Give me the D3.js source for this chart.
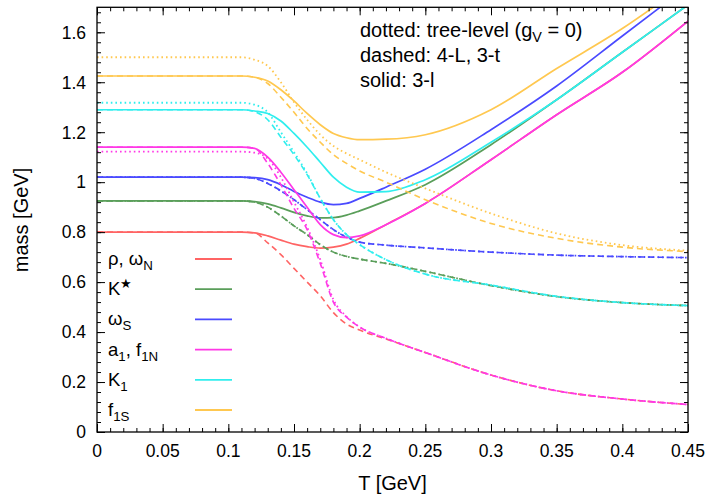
<!DOCTYPE html>
<html><head><meta charset="utf-8">
<script src="https://cdn.jsdelivr.net/npm/d3@7"></script>
<style>
body{margin:0;background:#fff;}
text{font-family:"Liberation Sans",Arial,Helvetica,sans-serif;fill:#000;}
</style>
</head><body>
<svg id="chart" width="714" height="494"></svg>
<script>
// ---------- data ----------
const T = [0, 0.05, 0.1, 0.11, 0.12, 0.13, 0.14, 0.15, 0.16, 0.17, 0.18, 0.19, 0.2, 0.22, 0.25, 0.3, 0.35, 0.4, 0.45];

// solid: 3-l
const rhoSolid    = [0.80,0.80,0.80,0.80,0.797,0.785,0.768,0.752,0.742,0.736,0.740,0.752,0.775,0.83,0.915,1.09,1.27,1.44,1.645];
const kstarSolid  = [0.925,0.925,0.925,0.925,0.922,0.913,0.897,0.879,0.865,0.857,0.858,0.868,0.885,0.925,0.99,1.15,1.33,1.52,1.71];
const omegaSSolid = [1.02,1.02,1.02,1.02,1.018,1.01,0.99,0.963,0.94,0.92,0.91,0.915,0.935,0.98,1.052,1.21,1.385,1.585,1.785];
const a1Solid     = [1.14,1.14,1.14,1.14,1.135,1.10,1.04,0.97,0.90,0.83,0.79,0.778,0.785,0.83,0.915,1.09,1.27,1.44,1.645];
const k1Solid     = [1.29,1.29,1.29,1.29,1.285,1.275,1.245,1.195,1.14,1.08,1.02,0.98,0.96,0.962,1.01,1.16,1.33,1.52,1.71];
const f1SSolid    = [1.425,1.425,1.425,1.425,1.42,1.405,1.37,1.325,1.275,1.23,1.195,1.178,1.17,1.172,1.19,1.29,1.455,1.615,1.80];

// dashed: 4-L, 3-t
const rhoDashed    = [0.80,0.80,0.80,0.80,0.797,0.757,0.71,0.655,0.60,0.545,0.478,0.432,0.408,0.372,0.318,0.228,0.165,0.132,0.11];
const kstarDashed  = [0.925,0.925,0.925,0.925,0.92,0.90,0.865,0.825,0.79,0.75,0.72,0.703,0.692,0.675,0.643,0.586,0.542,0.518,0.506];
const omegaSDashed = [1.02,1.02,1.02,1.02,1.015,0.995,0.965,0.93,0.89,0.85,0.81,0.78,0.76,0.748,0.737,0.72,0.708,0.702,0.698];
const a1Dashed     = [1.14,1.14,1.14,1.14,1.135,1.075,0.99,0.895,0.81,0.675,0.52,0.46,0.42,0.375,0.318,0.228,0.165,0.132,0.11];
const k1Dashed     = [1.29,1.29,1.29,1.29,1.282,1.25,1.18,1.11,1.03,0.935,0.85,0.79,0.75,0.69,0.632,0.588,0.543,0.518,0.506];
const f1SDashed    = [1.425,1.425,1.425,1.425,1.42,1.395,1.34,1.28,1.215,1.16,1.11,1.075,1.045,1.0,0.93,0.835,0.775,0.74,0.722];

// dotted: tree-level (gV = 0)
const kstarDotted  = [0.925,0.925,0.925,0.925,0.92,0.90,0.865,0.825,0.79,0.75,0.72,0.703,0.692,0.675,0.643,0.586,0.542,0.518,0.506];
const omegaSDotted = [1.02,1.02,1.02,1.02,1.015,0.995,0.965,0.93,0.89,0.85,0.81,0.78,0.76,0.748,0.737,0.72,0.708,0.702,0.698];
const a1Dotted     = [1.122,1.122,1.122,1.122,1.118,1.095,1.02,0.92,0.82,0.69,0.53,0.462,0.42,0.375,0.318,0.228,0.165,0.132,0.11];
const k1Dotted     = [1.318,1.318,1.318,1.318,1.31,1.28,1.20,1.12,1.035,0.935,0.85,0.79,0.75,0.69,0.632,0.588,0.543,0.518,0.506];
const f1SDotted    = [1.50,1.50,1.50,1.50,1.49,1.465,1.40,1.32,1.25,1.19,1.145,1.115,1.09,1.04,0.975,0.875,0.795,0.748,0.726];

const xMajor = [0,0.05,0.1,0.15,0.2,0.25,0.3,0.35,0.4,0.45];
const xLabels = ["0","0.05","0.1","0.15","0.2","0.25","0.3","0.35","0.4","0.45"];
const yMajor = [0,0.2,0.4,0.6,0.8,1.0,1.2,1.4,1.6];
const yLabels = ["0","0.2","0.4","0.6","0.8","1","1.2","1.4","1.6"];
const notes = ["dotted: tree-level (g", "dashed: 4-L, 3-t", "solid: 3-l"];

const series = [
  {label:[["ρ, ω",""],["N","sub"]], color:"#ff6464", solid:rhoSolid, dashed:rhoDashed, dotted:null},
  {label:[["K",""],["★","sup"]], color:"#5a9e5a", solid:kstarSolid, dashed:kstarDashed, dotted:kstarDotted},
  {label:[["ω",""],["S","sub"]], color:"#4a4aff", solid:omegaSSolid, dashed:omegaSDashed, dotted:omegaSDotted},
  {label:[["a",""],["1","sub"],[", f",""],["1N","sub"]], color:"#ff38e6", solid:a1Solid, dashed:a1Dashed, dotted:a1Dotted},
  {label:[["K",""],["1","sub"]], color:"#30eeee", solid:k1Solid, dashed:k1Dashed, dotted:k1Dotted},
  {label:[["f",""],["1S","sub"]], color:"#ffc850", solid:f1SSolid, dashed:f1SDashed, dotted:f1SDotted}
];

// ---------- layout ----------
const L = 97, R = 688, TOP = 7.3, B = 432;
const x = d3.scaleLinear().domain([0,0.45]).range([L,R]);
const y = d3.scaleLinear().domain([0,1.7]).range([B,TOP]);
const svg = d3.select("#chart");
const FT = 17.5, FL = 20, FG = 18.5;

svg.append("defs").append("clipPath").attr("id","clip")
  .append("rect").attr("x",L).attr("y",TOP).attr("width",R-L).attr("height",B-TOP);

const line = d3.line().x(d=>x(d[0])).y(d=>y(d[1])).curve(d3.curveMonotoneX);
const plot = svg.append("g").attr("clip-path","url(#clip)");

series.forEach(s=>{
  if (s.dotted) plot.append("path").datum(T.map((t,i)=>[t,s.dotted[i]]))
    .attr("d",line).attr("fill","none").attr("stroke",s.color).attr("stroke-width",1.8)
    .attr("stroke-dasharray","1.6,3");
  plot.append("path").datum(T.map((t,i)=>[t,s.dashed[i]]))
    .attr("d",line).attr("fill","none").attr("stroke",s.color).attr("stroke-width",1.6)
    .attr("stroke-dasharray","6,4");
  plot.append("path").datum(T.map((t,i)=>[t,s.solid[i]]))
    .attr("d",line).attr("fill","none").attr("stroke",s.color).attr("stroke-width",1.7);
});

// axes (ticks inward on all four sides)
const xMinor = d3.range(0,0.4501,0.01);
const yMinor = d3.range(0,1.7,0.04);
function ax(gen, tr, vals, size){
  svg.append("g").attr("transform",tr)
    .call(gen.tickValues(vals).tickSize(size).tickFormat(""))
    .call(g=>g.select(".domain").remove())
    .call(g=>g.selectAll("line").attr("stroke","#000").attr("stroke-width",1));
}
ax(d3.axisBottom(x), `translate(0,${B})`, xMinor, -4);
ax(d3.axisBottom(x), `translate(0,${B})`, xMajor, -8);
ax(d3.axisTop(x), `translate(0,${TOP})`, xMinor, -4);
ax(d3.axisTop(x), `translate(0,${TOP})`, xMajor, -8);
ax(d3.axisLeft(y), `translate(${L},0)`, yMinor, -4);
ax(d3.axisLeft(y), `translate(${L},0)`, yMajor, -8);
ax(d3.axisRight(y), `translate(${R},0)`, yMinor, -4);
ax(d3.axisRight(y), `translate(${R},0)`, yMajor, -8);

svg.append("rect").attr("x",L).attr("y",TOP).attr("width",R-L).attr("height",B-TOP)
  .attr("fill","none").attr("stroke","#000").attr("stroke-width",1.3);

svg.append("g").selectAll("text").data(xMajor).join("text")
  .attr("x",d=>x(d)).attr("y",457).attr("text-anchor","middle").attr("font-size",FT)
  .text((d,i)=>xLabels[i]);
svg.append("g").selectAll("text").data(yMajor).join("text")
  .attr("x",86).attr("y",d=>y(d)+6.3).attr("text-anchor","end").attr("font-size",FT)
  .text((d,i)=>yLabels[i]);

svg.append("text").attr("x",(L+R)/2).attr("y",490).attr("text-anchor","middle")
  .attr("font-size",FL).text("T [GeV]");
svg.append("text").attr("transform","translate(28,220) rotate(-90)").attr("text-anchor","middle")
  .attr("font-size",FL).text("mass [GeV]");

// annotations
const n0 = svg.append("text").attr("x",360).attr("y",37).attr("font-size",FL);
n0.append("tspan").text(notes[0]);
n0.append("tspan").attr("font-size",FL*0.72).attr("dy",5).text("V");
n0.append("tspan").attr("dy",-5).text(" = 0)");
svg.append("text").attr("x",360).attr("y",62).attr("font-size",FL).text(notes[1]);
svg.append("text").attr("x",360).attr("y",87).attr("font-size",FL).text(notes[2]);

// legend
series.forEach((s,i)=>{
  const yy = 259 + 30.2*i;
  svg.append("line").attr("x1",195).attr("x2",232).attr("y1",yy).attr("y2",yy)
    .attr("stroke",s.color).attr("stroke-width",1.8);
  const t = svg.append("text").attr("x",108).attr("y",yy+6).attr("font-size",FG);
  let shift = 0;
  s.label.forEach(([str,kind])=>{
    let target = kind==="sub"?5:(kind==="sup"?-7:0);
    const sp = t.append("tspan").attr("dy",target-shift).text(str);
    if (kind) sp.attr("font-size",FG*0.72);
    shift = target;
  });
});
</script>
</body></html>
